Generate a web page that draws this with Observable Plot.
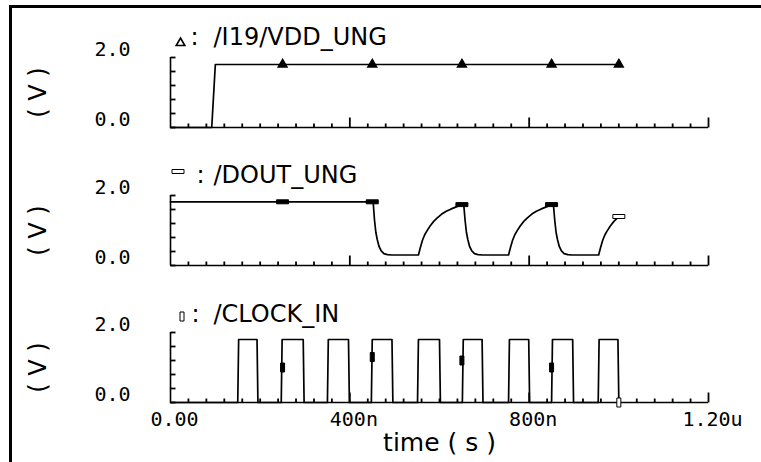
<!DOCTYPE html>
<html>
<head>
<meta charset="utf-8">
<script src="https://cdn.jsdelivr.net/npm/d3@7"></script>
<script src="https://cdn.jsdelivr.net/npm/@observablehq/plot@0.6"></script>
<style>
  body { margin: 0; background: #fff; }
  #wrap { position: relative; width: 761px; height: 462px; overflow: hidden; background: #fff; }
  #wrap .panel { position: absolute; left: 0; }
  .bt { position: absolute; left: 9px; top: 5px; width: 752px; height: 2.5px; background: #000; }
  .bl { position: absolute; left: 9px; top: 5px; width: 2.5px; height: 457px; background: #000; }
</style>
</head>
<body>
<div id="wrap"><div class="bt"></div><div class="bl"></div></div>
<script>
// ---- axis definitions (time in ns, voltage in V) ----
const timeDomain = [0, 1200];
const voltDomain = [0, 2];
const xTickValues = [0, 400, 800, 1200];
const xTickLabels = ["0.00", "400n", "800n", "1.20u"];
const xMajorTicks = [400, 800, 1200];
const xMinorTicks = [40, 80, 120, 160, 200, 240, 280, 320, 360, 440, 480, 520, 560, 600, 640, 680, 720, 760,
  840, 880, 920, 960, 1000, 1040, 1080, 1120, 1160];
const yTickValues = [0, 0.4, 0.8, 1.2, 1.6, 2.0];
const yLabelValues = [0, 2];
const yLabelTexts = ["0.0", "2.0"];
const titles = ["/I19/VDD_UNG", "/DOUT_UNG", "/CLOCK_IN"];
const yAxisLabel = "( V )";
const xAxisLabel = "time ( s )";

// ---- /I19/VDD_UNG ----
const vddT = [0, 92, 100, 1000];
const vddV = [0, 0, 1.8, 1.8];

// ---- /DOUT_UNG ----
const doutT = [0, 452, 455, 458, 461, 465, 470, 476, 484, 494,
  553, 557, 562, 567, 572, 579, 587, 595, 605, 615, 625, 640, 654,
  657, 660, 663, 667, 672, 678, 686, 696,
  754, 758, 763, 768, 773, 780, 788, 796, 806, 816, 826, 841, 854,
  857, 860, 863, 867, 872, 878, 886, 896,
  955, 959, 964, 969, 974, 981, 989, 997, 1000];
const doutV = [1.82, 1.82, 1.3, 0.95, 0.75, 0.55, 0.42, 0.34, 0.31, 0.3,
  0.3, 0.5, 0.72, 0.88, 0.99, 1.13, 1.26, 1.36, 1.47, 1.55, 1.61, 1.69, 1.75,
  1.3, 0.95, 0.75, 0.55, 0.42, 0.34, 0.31, 0.3,
  0.3, 0.5, 0.72, 0.88, 0.99, 1.13, 1.26, 1.36, 1.47, 1.55, 1.61, 1.69, 1.75,
  1.3, 0.95, 0.75, 0.55, 0.42, 0.34, 0.31, 0.3,
  0.3, 0.5, 0.72, 0.88, 0.99, 1.13, 1.26, 1.36, 1.4];

// ---- /CLOCK_IN ----
const clockT = [0, 150, 152, 193, 195, 247, 249, 296, 298, 350, 352, 397, 399,
  448, 450, 494, 496, 551, 553, 600, 602, 651, 653, 695, 697,
  754, 756, 799, 801, 850, 852, 897, 899, 954, 956, 998, 1000];
const clockV = [0, 0, 1.8, 1.8, 0, 0, 1.8, 1.8, 0, 0, 1.8, 1.8, 0,
  0, 1.8, 1.8, 0, 0, 1.8, 1.8, 0, 0, 1.8, 1.8, 0,
  0, 1.8, 1.8, 0, 0, 1.8, 1.8, 0, 0, 1.8, 1.8, 0];

// ---- marker positions ----
const markerT = [250, 450, 650, 850, 1000];
const vddMarkV = [1.8, 1.8, 1.8, 1.8, 1.8];
const doutMarkV = [1.82, 1.82, 1.74, 1.74, 1.4];
const clockMarkV = [1.0, 1.3, 1.2, 1.0, 0];

// ---- helpers ----
const rows = (T, V) => T.map((t, i) => ({t, v: V[i], i}));
const hBar = {draw(ctx) { ctx.moveTo(-6, -2); ctx.lineTo(6, -2); ctx.lineTo(6, 2); ctx.lineTo(-6, 2); ctx.closePath(); }};
const vBar = {draw(ctx) { ctx.moveTo(-2, -4.5); ctx.lineTo(2, -4.5); ctx.lineTo(2, 4.5); ctx.lineTo(-2, 4.5); ctx.closePath(); }};
const tickUp = {draw(ctx, size) { const l = Math.sqrt(size / Math.PI); ctx.moveTo(0, 0); ctx.lineTo(0, -l); }};
const tickRight = {draw(ctx, size) { const l = Math.sqrt(size / Math.PI); ctx.moveTo(0, 0); ctx.lineTo(l, 0); }};
const numFont = "DejaVu Sans Mono";
const txtFont = "DejaVu Sans";
const yLabelMap = new Map(yLabelValues.map((v, i) => [v, yLabelTexts[i]]));
const xLabelMap = new Map(xTickValues.map((v, i) => [v, xTickLabels[i]]));

const W = 761, ML = 170, MR = 53, MT = 57, PH = 70;

function panel(cfg) {
  const {top, height, title, series, marks, symbol, symR, symStrokeW, lastHollow,
         tMark, cMarkDx, colonDx, titleDy, bottom} = cfg;
  const last = marks.length - 1;
  const markList = [
    Plot.dot(xMinorTicks, {x: d => d, y: 0, symbol: tickUp, r: 4, fill: "none", stroke: "#000", strokeWidth: 1.8}),
    Plot.dot(xMajorTicks, {x: d => d, y: 0, symbol: tickUp, r: 10, fill: "none", stroke: "#000", strokeWidth: 1.8}),
    Plot.dot(yTickValues, {x: 0, y: d => d, symbol: tickRight, r: 5, fill: "none", stroke: "#000", strokeWidth: 1.8}),
    Plot.ruleY([0], {stroke: "#000", strokeWidth: 1.6}),
    Plot.ruleX([0], {stroke: "#000", strokeWidth: 1.6}),
    Plot.line(series, {x: "t", y: "v", stroke: "#000", strokeWidth: 1.7}),
    Plot.dot(marks, {x: "t", y: "v", symbol, r: symR, fill: "#000", stroke: "#000", strokeWidth: symStrokeW,
      filter: d => !(lastHollow && d.i === last)}),
    Plot.dot(marks, {x: "t", y: "v", symbol, r: symR, fill: "#fff", stroke: "#000", strokeWidth: symStrokeW,
      filter: d => lastHollow && d.i === last}),
    Plot.axisY({ticks: yLabelValues, tickFormat: d => yLabelMap.get(d), tickSize: 0, tickPadding: 40,
      dy: -7.5, fontSize: 20, fontFamily: numFont, label: null}),
    Plot.text([yAxisLabel], {x: null, y: null, text: d => d, frameAnchor: "left", dx: -132, rotate: -90,
      textAnchor: "middle", lineAnchor: "middle", fontSize: 24, fontFamily: txtFont}),
    Plot.text([title], {x: null, y: null, text: d => d, frameAnchor: "top-left", dx: 43, dy: titleDy,
      textAnchor: "start", lineAnchor: "middle", fontSize: 24, fontFamily: txtFont}),
    Plot.text([":"], {x: null, y: null, text: d => d, frameAnchor: "top-left", dx: colonDx, dy: titleDy,
      textAnchor: "middle", lineAnchor: "middle", fontSize: 24, fontFamily: txtFont}),
    Plot.dot([0], {x: null, y: null, frameAnchor: "top-left", dx: cMarkDx, dy: tMark, symbol, r: symR,
      fill: "#fff", stroke: "#000", strokeWidth: symStrokeW})
  ];
  if (bottom) {
    markList.push(
      Plot.axisX({ticks: xTickValues, tickFormat: d => xLabelMap.get(d), tickSize: 0, tickPadding: 9,
        dx: 4, fontSize: 20, fontFamily: numFont, label: null}),
      Plot.text([xAxisLabel], {x: null, y: null, text: d => d, frameAnchor: "bottom", dy: 40,
        textAnchor: "middle", lineAnchor: "middle", fontSize: 25, fontFamily: txtFont})
    );
  }
  const chart = Plot.plot({
    width: W, height,
    marginTop: MT, marginLeft: ML, marginRight: MR, marginBottom: height - MT - PH,
    x: {domain: timeDomain, axis: bottom ? undefined : null},
    y: {domain: voltDomain},
    style: {background: "transparent", overflow: "visible", color: "#000"},
    marks: markList
  });
  chart.classList.add("panel");
  chart.style.top = top + "px";
  document.getElementById("wrap").appendChild(chart);
}

panel({top: 0, height: 138, title: titles[0], series: rows(vddT, vddV), marks: rows(markerT, vddMarkV),
  symbol: d3.symbolTriangle, symR: 3.2, symStrokeW: 1.6, lastHollow: false,
  tMark: -14.5, cMarkDx: 10, colonDx: 24, titleDy: -20});
panel({top: 137.5, height: 138, title: titles[1], series: rows(doutT, doutV), marks: rows(markerT, doutMarkV),
  symbol: hBar, symR: 3, symStrokeW: 1, lastHollow: true,
  tMark: -24, cMarkDx: 7.5, colonDx: 30, titleDy: -20});
panel({top: 275, height: 187, title: titles[2], series: rows(clockT, clockV), marks: rows(markerT, clockMarkV),
  symbol: vBar, symR: 3, symStrokeW: 1, lastHollow: true,
  tMark: -16, cMarkDx: 11.5, colonDx: 25, titleDy: -18, bottom: true});
</script>
</body>
</html>
